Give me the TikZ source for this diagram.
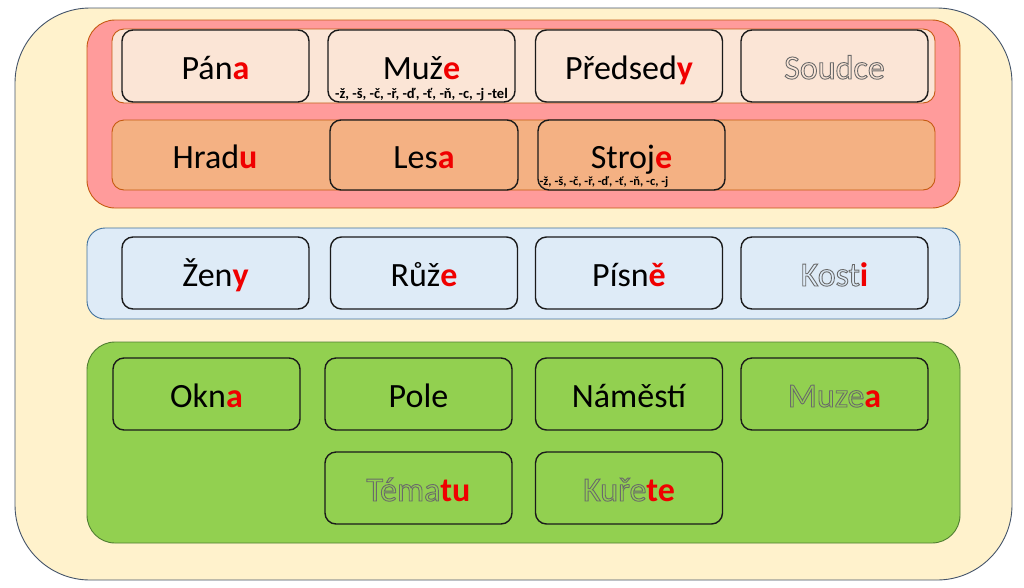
\documentclass[tikz,border=0pt]{standalone}
\usepackage{fontspec}
\setmainfont{Carlito}
\definecolor{cream}{HTML}{FFF2CC}
\definecolor{outerline}{HTML}{44546A}
\definecolor{redpanel}{HTML}{FF9B9B}
\definecolor{brownline}{HTML}{C55A11}
\definecolor{peach}{HTML}{FBE5D6}
\definecolor{orangefill}{HTML}{F4B183}
\definecolor{bluefill}{HTML}{DEEBF7}
\definecolor{blueline}{HTML}{41719C}
\definecolor{greenfill}{HTML}{92D050}
\definecolor{greenline}{HTML}{507E32}
\definecolor{boxline}{HTML}{1A1A1A}
\definecolor{wred}{HTML}{F00000}
\definecolor{olgray}{HTML}{6A6A6A}
\newcommand\rd[1]{{\color{wred}\bfseries #1}}
\newcommand\hol[1]{{\color{olgray}\special{pdf:literal direct 1 Tr 0.9 w}#1\special{pdf:literal direct 0 Tr}}}
\begin{document}
\begin{tikzpicture}[x=1pt,y=-1pt,
  wbox/.style={draw=boxline, line width=1.4pt, rounded corners=11pt,
    minimum width=187pt, minimum height=72pt, inner sep=0pt,
    text height=26pt, text depth=0pt, font=\fontsize{34}{40}\selectfont},
  sub/.style={inner sep=0pt, anchor=base, font=\bfseries\fontsize{14.5}{16}\selectfont},
  panel/.style={line width=0.9pt}]
\useasboundingbox (0,0) rectangle (1024,587);
% outer
\draw[panel, draw=outerline, fill=cream, rounded corners=75pt] (15,8) rectangle (1012,580);
% red group
\draw[panel, draw=brownline, fill=redpanel, rounded corners=28pt] (87,20) rectangle (960,208);
\draw[panel, draw=brownline, fill=peach, rounded corners=12pt] (112,29) rectangle (935,103);
\draw[panel, draw=brownline, fill=orangefill, rounded corners=12pt] (112,120) rectangle (935,190);
\node[wbox, fill=peach] (pana) at (215.5,66) {Pán\rd{a}};
\node[wbox, fill=peach] (muze) at (421.5,66) {Muž\rd{e}};
\node[sub] (muzesub) at (421.5,98) {-ž, -š, -č, -ř, -ď, -ť, -ň, -c, -j -tel};
\node[wbox, fill=peach] (predsedy) at (629,66) {Předsed\rd{y}};
\node[wbox, fill=peach] (soudce) at (834.5,66) {\hol{Soudce}};
\node[wbox, draw=none, fill=none, minimum height=70pt] (hradu) at (215,155) {Hrad\rd{u}};
\node[wbox, fill=orangefill, minimum height=70pt, minimum width=188pt] (lesa) at (424,155) {Les\rd{a}};
\node[wbox, fill=orangefill, minimum height=70pt] (stroje) at (631.5,155) {Stroj\rd{e}};
\node[sub, font=\bfseries\fontsize{12.5}{14}\selectfont] (strojesub) at (604,185) {-ž, -š, -č, -ř, -ď, -ť, -ň, -c, -j};
% blue group
\draw[panel, draw=blueline, fill=bluefill, rounded corners=18pt] (87,228) rectangle (960,319);
\node[wbox, fill=bluefill] (zeny) at (215.5,273) {Žen\rd{y}};
\node[wbox, fill=bluefill] (ruze) at (424,273) {Růž\rd{e}};
\node[wbox, fill=bluefill] (pisne) at (629,273) {Písn\rd{ě}};
\node[wbox, fill=bluefill] (kosti) at (834.5,273) {\hol{Kost}\rd{i}};
% green group
\draw[panel, draw=greenline, fill=greenfill, rounded corners=28pt] (87,342) rectangle (960,543);
\node[wbox, fill=greenfill] (okna) at (206.5,394) {Okn\rd{a}};
\node[wbox, fill=greenfill] (pole) at (418.5,394) {Pole};
\node[wbox, fill=greenfill] (namesti) at (629,394) {Náměstí};
\node[wbox, fill=greenfill] (muzea) at (834.5,394) {\hol{Muze}\rd{a}};
\node[wbox, fill=greenfill] (tematu) at (418.5,488) {\hol{Téma}\rd{tu}};
\node[wbox, fill=greenfill] (kurete) at (629,488) {\hol{Kuře}\rd{te}};
\end{tikzpicture}
\end{document}
